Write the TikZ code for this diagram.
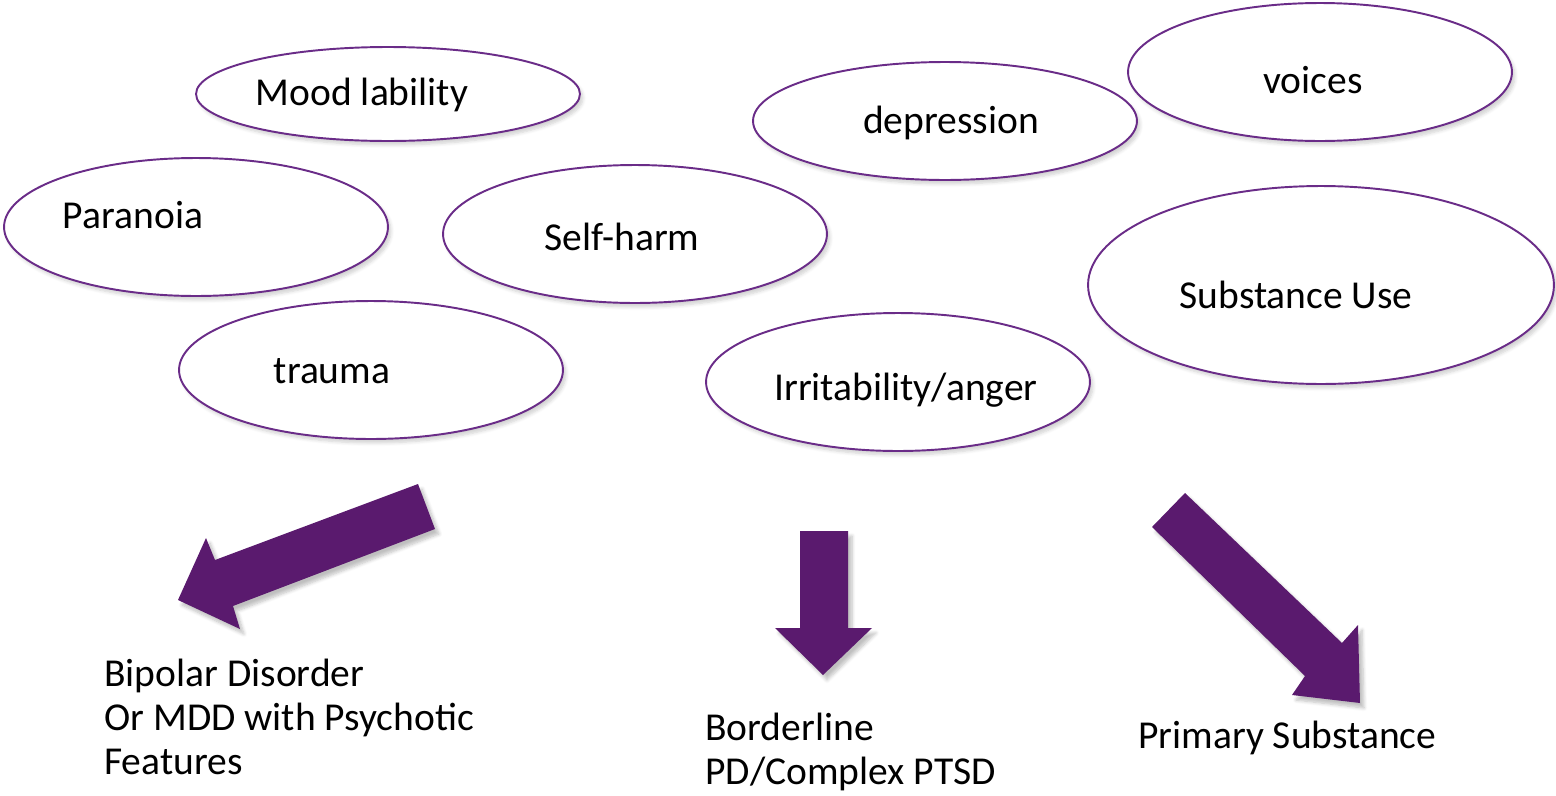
\documentclass[tikz,border=0pt]{standalone}
\usepackage{fontspec}
\setmainfont{Carlito}
\usepackage{tikz}
\usetikzlibrary{shadows, shadows.blur, shapes.geometric, positioning}
\usepackage{xcolor}
\definecolor{rimpurple}{HTML}{6A2C88}
\definecolor{arrowpurple}{HTML}{5A1A6E}
\tikzstyle{blob}      = [draw=rimpurple, line width=1.1pt, ellipse, fill=white, inner sep=0pt, minimum width=7.68cm, minimum height=2.76cm, blur shadow={shadow blur steps=6, shadow xshift=0.6mm, shadow yshift=-0.8mm, shadow opacity=18}]
\tikzstyle{blobtext}  = [anchor=base, inner sep=0pt]
\tikzstyle{result}    = [anchor=base west, align=left, inner sep=0pt]
\tikzstyle{bigarrow}  = [fill=arrowpurple, draw=none, blur shadow={shadow blur steps=6, shadow xshift=0.8mm, shadow yshift=-1mm, shadow opacity=25}]

\begin{document}
\begin{tikzpicture}[
        x=0.02cm, y=-0.02cm,
        every node/.style={font=\fontsize{22.5}{25}\selectfont}
    ]
        \useasboundingbox (0,0) rectangle (1556,795);

        % Symptoms
        \node[blob, minimum height=1.88cm] (mood) at (388,94) {};
        \node[blobtext] (moodtxt) at (362,105) {Mood lability};

        \node[blob] (paranoia) at (196,227) {};
        \node[blobtext] (paranoiatxt) at (133,228) {Paranoia};

        \node[blob] (selfharm) at (635,234) {};
        \node[blobtext] (selfharmtxt) at (622,250) {Self-harm};

        \node[blob] (trauma) at (371,370) {};
        \node[blobtext] (traumatxt) at (332,383) {trauma};

        \node[blob, minimum height=2.36cm] (depression) at (945,121) {};
        \node[blobtext] (depressiontxt) at (951,133) {depression};

        \node[blob] (voices) at (1320,72) {};
        \node[blobtext] (voicestxt) at (1313,93) {voices};

        \node[blob, minimum width=9.32cm, minimum height=3.96cm] (substance) at (1321,285) {};
        \node[blobtext] (substancetxt) at (1296,308) {Substance Use};

        \node[blob] (irritability) at (898,382) {};
        \node[blobtext] (irritabilitytxt) at (906,400) {Irritability/anger};

        % Arrows
        \fill[bigarrow] (418,484) -- (435,529) -- (233,606) -- (240,629)
            -- (178,600) -- (206,538) -- (215,560) -- cycle;

        \fill[bigarrow] (800,531) -- (848,531) -- (848,628) -- (872,628)
            -- (823,675) -- (775,628) -- (800,628) -- cycle;

        \fill[bigarrow] (1185,493) -- (1342,643) -- (1358,625) -- (1360,703)
            -- (1292,695) -- (1305,676) -- (1152,527) -- cycle;

        % Diagnoses
        \node[result] (bipolar) at (104,774)
            {Bipolar Disorder\\Or MDD with Psychotic\\Features};

        \node[result] (borderline) at (705,784)
            {Borderline\\PD/Complex PTSD};

        \node[result] (primary) at (1138,748)
            {Primary Substance};

\end{tikzpicture}
\end{document}
